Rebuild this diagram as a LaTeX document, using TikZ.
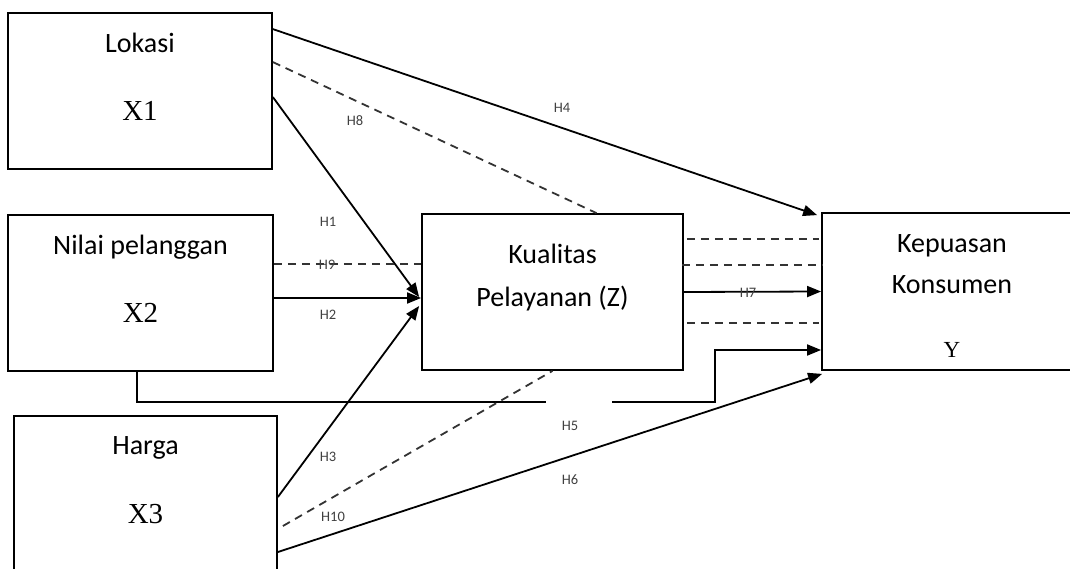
\documentclass[tikz,border=0pt]{standalone}
\usepackage{fontspec}
\setmainfont{Carlito}
\newfontfamily\varfont{Liberation Serif}
\usetikzlibrary{arrows.meta,positioning,calc}

\begin{document}
\begin{tikzpicture}[x=1pt, y=1pt,
  box/.style={draw, line width=1.8pt, minimum width=264pt, minimum height=156pt, inner sep=0pt},
  boxlabel/.style={anchor=base, font=\fontsize{28}{30}\selectfont},
  varlabel/.style={anchor=base, font=\varfont\fontsize{29}{31}\selectfont},
  hyp/.style={font=\fontsize{14.5}{16}\selectfont, text=black!75},
  flow/.style={-{Triangle[length=14pt, width=11pt]}, line width=1.8pt},
  link/.style={line width=1.8pt},
  dashline/.style={line width=1.8pt, dash pattern=on 8pt off 6pt, draw=black!80}]
\useasboundingbox (0,0) rectangle (1070,568);
\clip (0,0) rectangle (1070,568);

\node[box] (lok) at (140,477) {};
\node[boxlabel] (lokname) at ($(lok.north)+(0,-40)$) {Lokasi};
\node[varlabel] (lokvar) at ($(lok.north)+(0,-108)$) {X1};

\node[box, minimum width=265pt] (nil) at (140.5,275) {};
\node[boxlabel] (nilname) at ($(nil.north)+(0,-40)$) {Nilai pelanggan};
\node[varlabel] (nilvar) at ($(nil.north)+(0,-108)$) {X2};

\node[box, minimum width=263pt, minimum height=204pt] (har) at (145.5,50) {};
\node[boxlabel] (harname) at ($(har.north)+(0,-39)$) {Harga};
\node[varlabel] (harvar) at ($(har.north)+(0,-108)$) {X3};

\node[box, minimum width=261pt] (kua) at (552.5,276) {};
\node[boxlabel] (kuaname) at ($(kua.north)+(0,-50)$) {Kualitas};
\node[boxlabel] (kuaname2) at ($(kua.north)+(0,-93)$) {Pelayanan (Z)};

\node[box, minimum width=260pt, minimum height=157pt] (kep) at (952,276.5) {};
\node[boxlabel] (kepname) at ($(kep.north)+(0,-40)$) {Kepuasan};
\node[boxlabel] (kepname2) at ($(kep.north)+(0,-81)$) {Konsumen};
\node[varlabel, font=\varfont\fontsize{23}{25}\selectfont] (kepvar) at ($(kep.north)+(0,-145)$) {Y};

% X1
\draw[flow] ($(lok.north east)+(0,-17)$) -- ($(kep.north west)+(-4,-3)$);
\draw[dashline] ($(lok.north east)+(0,-50)$) -- ($(kua.north)+(44,0)$);
\draw[flow] ($(lok.north east)+(0,-85)$) -- ($(kua.west)+(-2,-5)$);

% X2
\draw[dashline] ($(nil.east)+(0,29)$) -- ($(kua.west)+(0,28)$);
\draw[flow] ($(nil.east)+(0,-5)$) -- ($(kua.west)+(0,-6)$);
\coordinate (gapa) at (546,166);
\coordinate (gapb) at (612,166);
\coordinate (bend) at (715,166);
\draw[link] ($(nil.south)+(-3.5,0)$) |- (gapa);
\draw[flow] (gapb) -- (bend) |- ($(kep.west)+(0,-58.5)$);

% X3
\draw[flow] ($(har.east)+(0,21)$) -- ($(kua.west)+(-2,-14)$);
\draw[dashline] ($(har.east)+(5,-8)$) -- (kua.south);
\draw[flow] ($(har.east)+(0,-34)$) -- ($(kep.south west)+(1,-3)$);

% Z
\draw[dashline] ($(kua.east)+(3,53)$) -- ($(kep.west)+(-2,52.5)$);
\draw[dashline] ($(kua.east)+(-2,27)$) -- ($(kep.west)+(2,26.5)$);
\draw[flow] (kua.east) -- (kep.west);
\draw[dashline] ($(kua.east)+(3,-31)$) -- ($(kep.west)+(-2,-31.5)$);

\node[hyp] (h1) at (328,346) {H1};
\node[hyp] (h2) at (328,253) {H2};
\node[hyp] (h3) at (328,111) {H3};
\node[hyp] (h4) at (562,460) {H4};
\node[hyp] (h5) at (570,142) {H5};
\node[hyp] (h6) at (570,88) {H6};
\node[hyp] (h7) at (748,275) {H7};
\node[hyp] (h8) at (355,447) {H8};
\node[hyp] (h9) at (327,303) {H9};
\node[hyp] (h10) at (333,51) {H10};
\end{tikzpicture}
\end{document}
